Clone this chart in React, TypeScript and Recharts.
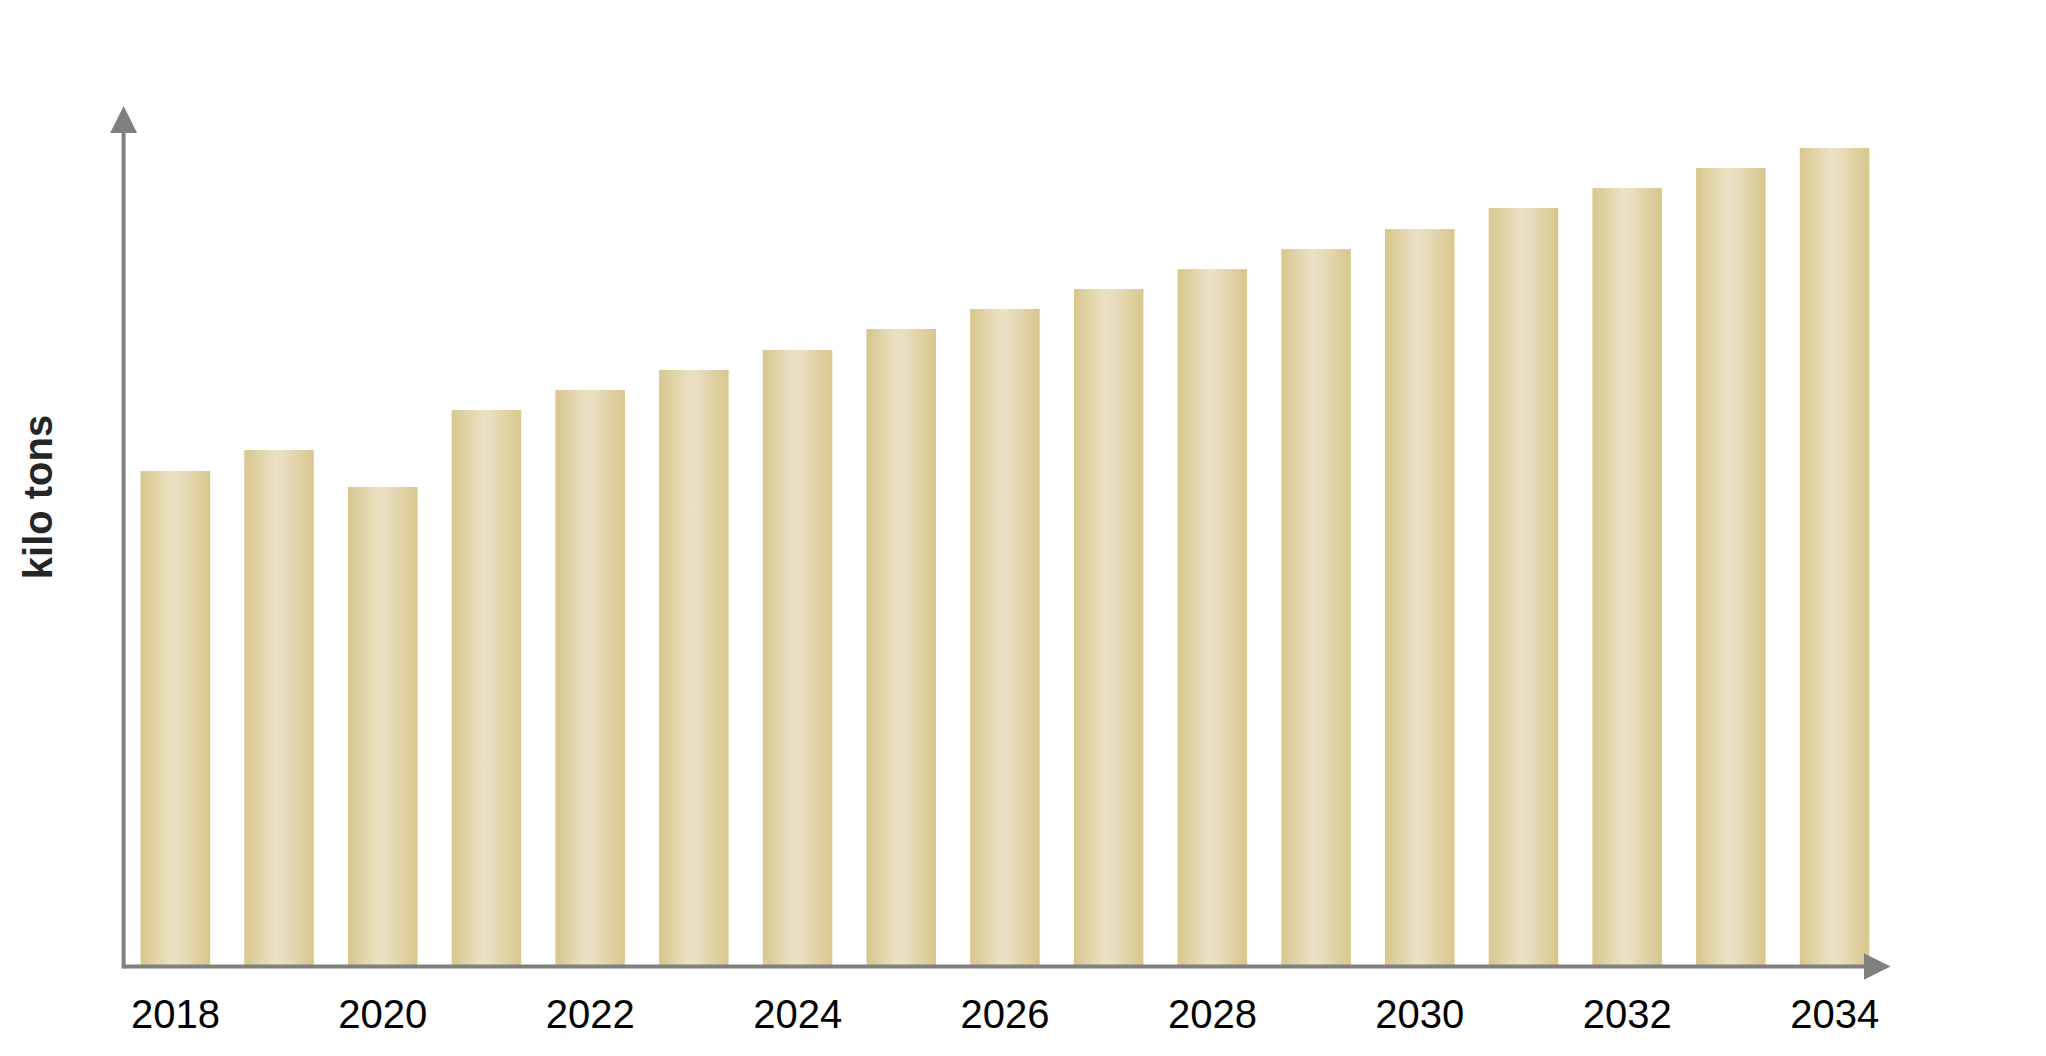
import React from 'react';
import { BarChart, Bar, XAxis, YAxis } from 'recharts';

const years = [
  '2018', '2019', '2020', '2021', '2022', '2023', '2024', '2025', '2026',
  '2027', '2028', '2029', '2030', '2031', '2032', '2033', '2034',
];
const volumes = [
  49.55, 51.65, 47.95, 55.65, 57.65, 59.65, 61.65, 63.75, 65.75,
  67.75, 69.75, 71.75, 73.75, 75.85, 77.85, 79.85, 81.85,
];
const yearTicks = ['2018', '2020', '2022', '2024', '2026', '2028', '2030', '2032', '2034'];
const yLabel = 'kilo tons';

const data = years.map((year, i) => ({ year, volume: volumes[i] }));

const AXIS_GREY = '#808080';
const FONT = '"Liberation Sans", Arial, Helvetica, sans-serif';

const YLabel = () => (
  <text
    x={52}
    y={497}
    transform="rotate(-90, 52, 497)"
    textAnchor="middle"
    fontFamily={FONT}
    fontSize={40}
    fontWeight="bold"
    fill="#262626"
  >
    {yLabel}
  </text>
);

export default function App() {
  return (
    <div style={{ position: 'absolute', left: 0, top: 0, width: 2046, height: 1056, background: '#fff' }}>
      <BarChart
        width={2046}
        height={1056}
        data={data}
        margin={{ top: 133, right: 159.5, bottom: 0, left: 122.6 }}
      >
        <defs>
          <linearGradient id="goldBar" x1="0" y1="0" x2="1" y2="0">
            <stop offset="0%" stopColor="#d8c68d" />
            <stop offset="45%" stopColor="#ebe2c4" />
            <stop offset="55%" stopColor="#e9dfbf" />
            <stop offset="100%" stopColor="#d8c68d" />
          </linearGradient>
          <marker
            id="arrowRight"
            markerUnits="userSpaceOnUse"
            markerWidth={27}
            markerHeight={27}
            refX={23}
            refY={13.5}
            orient="auto"
          >
            <path d="M0,0 L27,13.5 L0,27 Z" fill={AXIS_GREY} />
          </marker>
          <marker
            id="arrowUp"
            markerUnits="userSpaceOnUse"
            markerWidth={27}
            markerHeight={27}
            refX={0}
            refY={13.5}
            orient="auto-start-reverse"
          >
            <path d="M0,0 L27,13.5 L0,27 Z" fill={AXIS_GREY} />
          </marker>
        </defs>
        <Bar dataKey="volume" fill="url(#goldBar)" barSize={69.5} isAnimationActive={false} />
        <XAxis
          dataKey="year"
          ticks={yearTicks}
          interval={0}
          height={89.5}
          tickLine={false}
          tickSize={6}
          tickMargin={27}
          axisLine={{ stroke: AXIS_GREY, strokeWidth: 4, markerEnd: 'url(#arrowRight)' }}
          tick={{ fill: '#000', fontSize: 40, fontFamily: FONT }}
        />
        <YAxis
          type="number"
          domain={[0, 83.35]}
          width={1}
          tick={false}
          tickLine={false}
          axisLine={{ stroke: AXIS_GREY, strokeWidth: 4, strokeLinecap: 'square', markerStart: 'url(#arrowUp)' }}
          label={<YLabel />}
        />
      </BarChart>
    </div>
  );
}
